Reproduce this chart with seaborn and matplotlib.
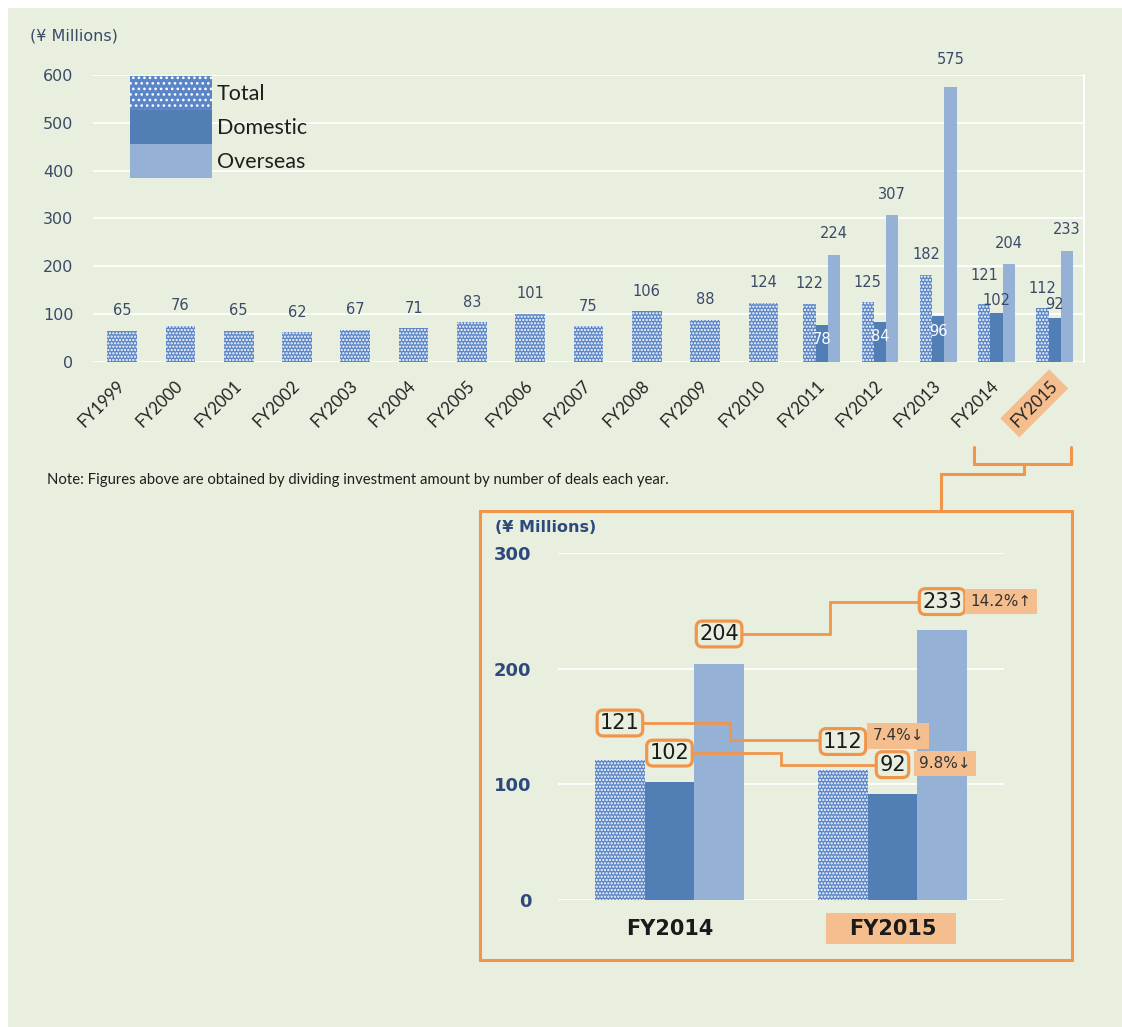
import matplotlib
matplotlib.use("Agg")
import matplotlib.pyplot as plt
import seaborn as sns
import pandas as pd
import numpy as np
from matplotlib.patches import Patch, Rectangle
from matplotlib.lines import Line2D

# ---------------- data ----------------
years = ["FY1999", "FY2000", "FY2001", "FY2002", "FY2003", "FY2004", "FY2005",
         "FY2006", "FY2007", "FY2008", "FY2009", "FY2010", "FY2011", "FY2012",
         "FY2013", "FY2014", "FY2015"]
total = [65, 76, 65, 62, 67, 71, 83, 101, 75, 106, 88, 124, 122, 125, 182, 121, 112]
split_years = ["FY2011", "FY2012", "FY2013", "FY2014", "FY2015"]
domestic = [78, 84, 96, 102, 92]
overseas = [224, 307, 575, 204, 233]
series = ["Total", "Domestic", "Overseas"]
inset_years = ["FY2014", "FY2015"]
inset_total = [121, 112]
inset_domestic = [102, 92]
inset_overseas = [204, 233]

# ---------------- style ----------------
W, H = 1122, 1027
BG = "#E9EFDF"
C_TOTAL = "#5A85C6"
C_DOM = "#507EB5"
C_OVS = "#95B1D6"
ORANGE = "#F0964B"
ORANGE_FILL = "#F5BE8F"
TXT = "#3B4A68"
INK = "#2E4A7C"

sns.set_theme(style="white")
plt.rcParams["font.family"] = ["DejaVu Sans"]
plt.rcParams["hatch.linewidth"] = 1.1

fig = plt.figure(figsize=(W / 100, H / 100), dpi=100, facecolor="white")
fig.patches.append(Rectangle((8 / W, 0), 1 - 8 / W, 1 - 8 / H, transform=fig.transFigure,
                             facecolor=BG, edgecolor="none", zorder=-10))


def px(x, y):
    return x / W, 1 - y / H


palette = {"Total": C_TOTAL, "Domestic": C_DOM, "Overseas": C_OVS}

# ---------------- main chart ----------------
ax = fig.add_axes([93 / W, 1 - 362 / H, (1084 - 93) / W, (362 - 75) / H])
ax.set_facecolor("none")

single = pd.DataFrame({"year": years,
                       "value": [v if y not in split_years else np.nan for y, v in zip(years, total)]})
single = single.dropna()
sns.barplot(data=single, x="year", y="value", order=years, color=C_TOTAL,
            width=0.51, ax=ax, saturation=1)

rows = []
for i, y in enumerate(split_years):
    rows.append((y, "Total", total[years.index(y)]))
    rows.append((y, "Domestic", domestic[i]))
    rows.append((y, "Overseas", overseas[i]))
grp = pd.DataFrame(rows, columns=["year", "series", "value"])
sns.barplot(data=grp, x="year", y="value", hue="series", order=years, hue_order=series,
            palette=palette, width=0.63, ax=ax, saturation=1, legend=False)

# hatch the Total bars
total_bars = list(ax.containers[0]) + list(ax.containers[1])
for b in total_bars:
    b.set_hatch(".....")
    b.set_edgecolor("white")
    b.set_linewidth(0)
for c in ax.containers[2:]:
    for b in c:
        b.set_linewidth(0)

ax.set_ylim(0, 600)
ax.set_xlim(-0.5, len(years) - 0.5)
ax.set_yticks(range(0, 601, 100))
ax.yaxis.grid(True, color="white", linewidth=1.3)
ax.set_axisbelow(True)
for s in ["top", "left", "bottom"]:
    ax.spines[s].set_visible(False)
ax.spines["right"].set_color("white")
ax.spines["right"].set_linewidth(1.5)
ax.set_xlabel("")
ax.set_ylabel("")
ax.tick_params(axis="y", length=0, pad=14, labelsize=11.5, labelcolor=TXT)
ax.tick_params(axis="x", length=0, pad=15)
for lab in ax.get_xticklabels():
    lab.set_rotation(45)
    lab.set_ha("right")
    lab.set_va("center")
    lab.set_rotation_mode("anchor")
    lab.set_fontfamily(["Lato", "DejaVu Sans"])
    lab.set_fontsize(12)
    lab.set_color("#222222")
    if lab.get_text() == "FY2015":
        lab.set_bbox(dict(facecolor=ORANGE_FILL, edgecolor="none", pad=4))

# data labels
def lab_above(bar, text, off, color=TXT):
    x = bar.get_x() + bar.get_width() / 2
    ax.annotate(text, (x, bar.get_height()), xytext=(0, off), textcoords="offset pixels",
                ha="center", va="center", fontsize=10.5, color=color)

for b in ax.containers[0]:
    lab_above(b, f"{int(b.get_height())}", 20)
for b in ax.containers[1]:
    v = int(b.get_height())
    lab_above(b, f"{v}", 29 if v == 121 else 20)
for i, b in enumerate(ax.containers[2]):
    v = int(b.get_height())
    if i < 3:
        lab_above(b, f"{v}", -15, color="white")
    else:
        lab_above(b, f"{v}", 13)
for b in ax.containers[3]:
    v = int(b.get_height())
    lab_above(b, f"{v}", 27 if v > 500 else 21)

# legend
handles = [Patch(facecolor=C_TOTAL, edgecolor="white", linewidth=0, hatch="..."),
           Patch(facecolor=C_DOM, edgecolor="none", linewidth=0),
           Patch(facecolor=C_OVS, edgecolor="none", linewidth=0)]
leg = ax.legend(handles, series, loc="upper left", bbox_to_anchor=((130 - 93) / 991, (362 - 76) / 287),
                frameon=False, borderpad=0, borderaxespad=0, labelspacing=0,
                handlelength=3.8, handleheight=2.05, handletextpad=0.22,
                prop={"family": ["Lato", "DejaVu Sans"], "size": 15.5})
for t in leg.get_texts():
    t.set_color("#1E1E1E")

fig.text(*px(30, 36), "(¥ Millions)", ha="left", va="center", fontsize=11.5, color=TXT)
fig.text(*px(47, 480), "Note: Figures above are obtained by dividing investment amount by number of deals each year.",
         ha="left", va="center", fontsize=10.7, color="#1E1E1E", family=["Lato", "DejaVu Sans"])

# bracket connecting to inset
def fig_line(pts, lw=2.2):
    xs = [p[0] / W for p in pts]
    ys = [1 - p[1] / H for p in pts]
    fig.add_artist(Line2D(xs, ys, transform=fig.transFigure, color=ORANGE, linewidth=lw,
                          solid_joinstyle="miter"))

fig_line([(974, 447), (974, 464), (1071, 464), (1071, 447)])
fig_line([(1024, 464), (1024, 474), (941, 474), (941, 511)])
fig.patches.append(Rectangle((480 / W, 1 - 960 / H), (1072 - 480) / W, (960 - 511) / H,
                             transform=fig.transFigure, facecolor="none", edgecolor=ORANGE,
                             linewidth=2.2, zorder=5))

# ---------------- inset ----------------
axi = fig.add_axes([558 / W, 1 - 900 / H, (1004 - 558) / W, (900 - 553) / H])
axi.set_facecolor("none")
irows = []
for i, y in enumerate(inset_years):
    irows.append((y, "Total", inset_total[i]))
    irows.append((y, "Domestic", inset_domestic[i]))
    irows.append((y, "Overseas", inset_overseas[i]))
idf = pd.DataFrame(irows, columns=["year", "series", "value"])
sns.barplot(data=idf, x="year", y="value", hue="series", order=inset_years, hue_order=series,
            palette=palette, width=0.667, ax=axi, saturation=1, legend=False)
for b in axi.containers[0]:
    b.set_hatch(".....")
    b.set_edgecolor("white")
    b.set_linewidth(0)
for c in axi.containers[1:]:
    for b in c:
        b.set_linewidth(0)
axi.set_ylim(0, 300)
axi.set_xlim(-0.5, 1.5)
axi.set_yticks([0, 100, 200, 300])
axi.yaxis.grid(True, color="white", linewidth=1.3)
axi.set_axisbelow(True)
for s in axi.spines.values():
    s.set_visible(False)
axi.set_xlabel("")
axi.set_ylabel("")
axi.tick_params(axis="y", length=0, pad=19, labelsize=13, labelcolor=INK)
for lab in axi.get_yticklabels():
    lab.set_fontweight("bold")
axi.tick_params(axis="x", length=0, pad=14, labelsize=15, labelcolor="#1A1A1A")
for lab in axi.get_xticklabels():
    lab.set_fontweight("bold")

# highlight box behind inset FY2015 label
fig.patches.append(Rectangle((826 / W, 1 - 944 / H), 130 / W, 31 / H, transform=fig.transFigure,
                             facecolor=ORANGE_FILL, edgecolor="none", zorder=-5))

fig.text(*px(495, 527), "(¥ Millions)", ha="left", va="center", fontsize=11.5,
         fontweight="bold", color=INK)

def cx(bar):
    return bar.get_x() + bar.get_width() / 2

t_b = list(axi.containers[0])
d_b = list(axi.containers[1])
o_b = list(axi.containers[2])

vbox = dict(boxstyle="round,pad=0.14,rounding_size=0.3", facecolor=BG, edgecolor=ORANGE, linewidth=2.3)
pbox = dict(boxstyle="square,pad=0.35", facecolor=ORANGE_FILL, edgecolor="none")

def value_box(bar, y):
    axi.text(cx(bar), y, f"{int(bar.get_height())}", ha="center", va="center", fontsize=15,
             color="#1A1A1A", bbox=vbox, zorder=6, clip_on=False)

def elbow(x1, y1, xm, y2, x2):
    axi.plot([x1, xm, xm, x2], [y1, y1, y2, y2], color=ORANGE, linewidth=2, zorder=4,
             clip_on=False, solid_joinstyle="miter")

# overseas 204 -> 233
elbow(cx(o_b[0]), 230, 0.72, 258, cx(o_b[1]))
value_box(o_b[0], 230)
value_box(o_b[1], 258)
# total 121 -> 112
elbow(cx(t_b[0]), 153, 0.27, 138, cx(t_b[1]))
value_box(t_b[0], 153)
value_box(t_b[1], 137)
# domestic 102 -> 92
elbow(cx(d_b[0]), 127, 0.5, 117, cx(d_b[1]))
value_box(d_b[0], 127)
value_box(d_b[1], 117)

def pct(a, b):
    ch = (b - a) / a * 100
    arrow = "↑" if ch > 0 else "↓"
    return f"{abs(ch):.1f}%{arrow}"

axi.text(1.35, 258, pct(inset_overseas[0], inset_overseas[1]), ha="left", va="center",
         fontsize=11, color="#333333", bbox=pbox, zorder=6, clip_on=False)
axi.text(0.91, 142, pct(inset_total[0], inset_total[1]), ha="left", va="center",
         fontsize=11, color="#333333", bbox=pbox, zorder=6, clip_on=False)
axi.text(1.12, 118, pct(inset_domestic[0], inset_domestic[1]), ha="left", va="center",
         fontsize=11, color="#333333", bbox=pbox, zorder=6, clip_on=False)

fig.savefig("out.png", dpi=100, facecolor="white")
